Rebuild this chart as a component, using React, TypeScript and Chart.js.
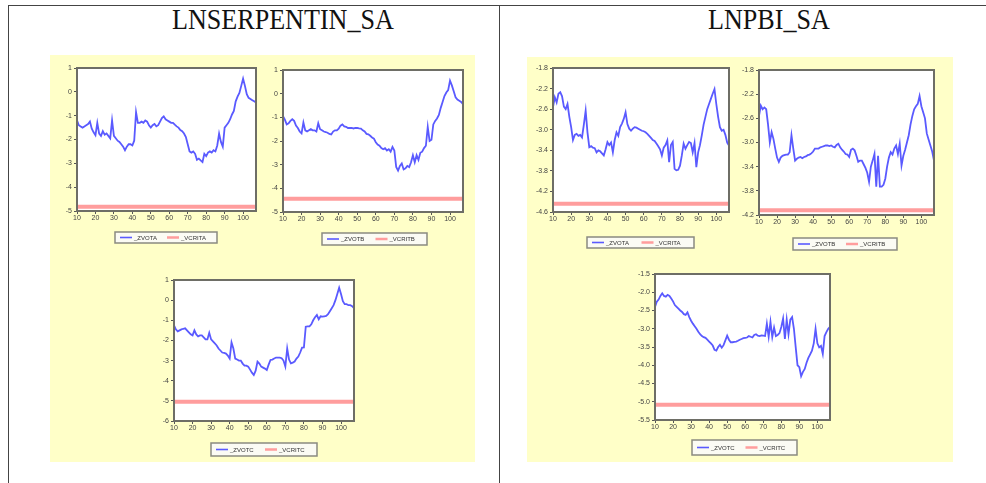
import { useEffect, useRef } from "react";
import { Chart, registerables } from "chart.js";

Chart.register(...registerables);

// Observation index range shared by every small chart
const firstObs = 10;
const lastObs = 107;
const xTicks = [10, 20, 30, 40, 50, 60, 70, 80, 90, 100];

// LNSERPENTIN_SA — test statistics (A, B, C) and their critical values
const serpZvotA = [
  -1.2, -1.4, -1.45, -1.5, -1.45, -1.4, -1.35, -1.25, -1.55, -1.7,
  -1.82, -1.3, -1.75, -1.85, -1.65, -1.8, -1.75, -1.85, -1.95, -1.2,
  -1.85, -1.95, -2.05, -2.1, -2.2, -2.3, -2.45, -2.3, -2.2, -2.2,
  -2.25, -2.05, -0.85, -1.3, -1.3, -1.25, -1.3, -1.2, -1.25, -1.4,
  -1.5, -1.4, -1.35, -1.45, -1.4, -1.25, -1.1, -1.03, -1.15, -1.2,
  -1.25, -1.3, -1.3, -1.38, -1.45, -1.5, -1.6, -1.65, -1.75, -1.9,
  -2.2, -2.5, -2.55, -2.5, -2.6, -2.85, -2.8, -2.88, -2.95, -2.6,
  -2.7, -2.55, -2.5, -2.55, -2.45, -2.5, -2.25, -1.75, -2.1, -2.3,
  -1.5, -1.4, -1.3, -1.15, -0.95, -0.8, -0.4, -0.2, -0.05, 0.25,
  0.55, 0.25, -0.1, -0.25, -0.3, -0.35, -0.4, -0.45,
];
const serpVcritA = -4.82;

const serpZvotB = [
  -0.95, -1.1, -1.3, -1.25, -1.15, -1.08, -1.15, -1.35, -1.45, -1.6,
  -1.68, -1.22, -1.55, -1.6, -1.55, -1.5, -1.55, -1.55, -1.6, -1.25,
  -1.5, -1.55, -1.6, -1.62, -1.65, -1.7, -1.72, -1.6, -1.55, -1.55,
  -1.48, -1.35, -1.3, -1.38, -1.4, -1.45, -1.45, -1.45, -1.47, -1.45,
  -1.45, -1.47, -1.48, -1.55, -1.6, -1.7, -1.72, -1.78, -1.85, -1.9,
  -2.05, -2.15, -2.2, -2.3, -2.35, -2.3, -2.4, -2.35, -2.45, -2.25,
  -2.4, -3.1, -3.25, -3.05, -2.95, -3.2, -3.15, -3.05, -3.1, -2.9,
  -2.6, -2.9, -2.6, -2.8, -2.5, -2.45, -2.3, -2.2, -1.4, -2.0,
  -1.95, -1.3, -1.15, -1.05, -0.9, -0.6, -0.35, -0.1, 0.05, 0.15,
  0.55, 0.35, 0.1, -0.15, -0.25, -0.3, -0.35, -0.45,
];
const serpVcritB = -4.44;

const serpZvotC = [
  -1.25, -1.45, -1.55, -1.5, -1.45, -1.42, -1.4, -1.5, -1.6, -1.7,
  -1.75, -1.5, -1.7, -1.8, -1.75, -1.75, -1.85, -1.95, -1.95, -1.62,
  -1.95, -2.05, -2.15, -2.25, -2.4, -2.5, -2.6, -2.62, -2.65, -2.75,
  -2.9, -2.1, -2.4, -2.9, -2.95, -3.0, -3.0, -3.15, -3.25, -3.25,
  -3.3, -3.45, -3.6, -3.72, -3.5, -3.05, -3.15, -3.3, -3.35, -3.4,
  -3.47, -3.2, -2.97, -2.95, -2.9, -2.85, -2.85, -2.85, -2.88, -3.0,
  -3.3, -2.4, -2.95, -3.14, -3.1, -3.05, -2.9, -2.8, -2.6, -2.36,
  -2.35, -1.32, -1.3, -1.3, -1.2, -1.0, -0.85, -0.74, -0.95, -0.8,
  -0.82, -0.8, -0.78, -0.7, -0.55, -0.4, -0.25, 0.0, 0.3, 0.62,
  0.3, -0.05, -0.2, -0.2, -0.25, -0.25, -0.3, -0.4,
];
const serpVcritC = -5.05;

// LNPBI_SA — test statistics (A, B, C) and their critical values
const pbiZvotA = [
  -2.56, -2.37, -2.47, -2.3, -2.27, -2.35, -2.55, -2.6, -2.5, -2.75,
  -2.95, -3.2, -3.1, -3.08, -3.12, -3.1, -3.15, -2.9, -2.63, -3.05,
  -3.34, -3.32, -3.35, -3.36, -3.44, -3.4, -3.42, -3.46, -3.5, -3.38,
  -3.24, -3.3, -3.25, -3.44, -3.2, -3.05, -3.12, -2.95, -2.88, -2.79,
  -2.66, -2.89, -2.98, -3.02, -2.98, -2.95, -2.96, -2.98, -3.0, -3.02,
  -3.03, -3.05, -3.08, -3.12, -3.16, -3.2, -3.22, -3.27, -3.32, -3.38,
  -3.5, -3.35, -3.3, -3.21, -3.63, -3.3, -3.24, -3.76, -3.79, -3.78,
  -3.7, -3.5, -3.27, -3.37, -3.3, -3.24, -3.26, -3.44, -3.26, -3.73,
  -3.44, -3.3, -3.11, -2.9, -2.75, -2.6, -2.5, -2.4, -2.3, -2.21,
  -2.5, -2.75, -2.95, -3.02, -3.0, -3.1, -3.25, -3.31,
];
const pbiVcritA = -4.44;

const pbiZvotB = [
  -2.56, -2.39, -2.45, -2.42, -2.45, -2.7, -3.0, -2.83, -2.94, -3.1,
  -3.25, -3.32, -3.25, -3.22, -3.21, -3.2, -3.2, -3.16, -2.88, -3.1,
  -3.3, -3.27, -3.25, -3.24, -3.26, -3.24, -3.23, -3.21, -3.2, -3.18,
  -3.15, -3.1, -3.1, -3.1, -3.08, -3.07, -3.06, -3.05, -3.05, -3.06,
  -3.05, -3.07, -3.08, -3.04, -3.02, -3.08, -3.12, -3.15, -3.19, -3.2,
  -3.24, -3.12, -3.1, -3.13, -3.22, -3.32, -3.3, -3.3, -3.36, -3.42,
  -3.5, -3.65, -3.4, -3.3, -3.19, -3.73, -3.22, -3.73, -3.73, -3.7,
  -3.6, -3.4, -3.25, -3.16, -3.2, -3.1, -3.05, -3.19, -3.02, -3.38,
  -3.22, -3.12, -3.0, -2.88, -2.7, -2.56, -2.45, -2.4, -2.36, -2.23,
  -2.4, -2.5, -2.6, -2.85, -2.95, -3.05, -3.15, -3.3,
];
const pbiVcritB = -4.12;

const pbiZvotC = [
  -2.4, -2.26, -2.2, -2.1, -2.03, -2.1, -2.12, -2.07, -2.1, -2.17,
  -2.25, -2.35, -2.4, -2.45, -2.5, -2.54, -2.6, -2.62, -2.55, -2.68,
  -2.78, -2.86, -2.93, -3.0, -3.08, -3.15, -3.2, -3.23, -3.25, -3.3,
  -3.35, -3.4, -3.46, -3.58, -3.6, -3.5, -3.44, -3.52, -3.45, -3.32,
  -3.19, -3.3, -3.37, -3.37, -3.36, -3.35, -3.33, -3.3, -3.28, -3.26,
  -3.25, -3.24, -3.2, -3.22, -3.24, -3.17, -3.15, -3.19, -3.2, -3.18,
  -3.19, -3.2, -2.86, -3.22, -2.81, -3.23, -2.97, -3.2, -3.17, -3.12,
  -2.95, -2.72, -3.28, -2.75, -3.15, -2.75, -2.68, -3.0, -3.51, -4.0,
  -4.05, -4.3, -4.18, -4.1, -3.93, -3.8, -3.7, -3.6, -3.4, -3.0,
  -3.4, -3.51, -3.47, -3.69, -3.2, -3.09, -3.0, -2.95,
];
const pbiVcritC = -5.08;

// Y-axis tick labels
const serpTicksAB = [1, 0, -1, -2, -3, -4, -5];
const serpTicksC = [1, 0, -1, -2, -3, -4, -5, -6];
const pbiTicksA = [-1.8, -2.2, -2.6, -3.0, -3.4, -3.8, -4.2, -4.6];
const pbiTicksB = [-1.8, -2.2, -2.6, -3.0, -3.4, -3.8, -4.2];
const pbiTicksC = [-1.5, -2.0, -2.5, -3.0, -3.5, -4.0, -4.5, -5.0, -5.5];

// Legend labels
const labelsA: [string, string] = ["_ZVOTA", "_VCRITA"];
const labelsB: [string, string] = ["_ZVOTB", "_VCRITB"];
const labelsC: [string, string] = ["_ZVOTC", "_VCRITC"];

const observations = serpZvotA.map((_, i) => firstObs + i);

type Spec = {
  plot: [number, number, number, number]; // left, top, right, bottom
  legend: [number, number, number, number]; // left, top, right, bottom
  zvot: number[];
  vcrit: number;
  yTicks: number[];
  decimals: number;
  labels: [string, string];
};

const specs: Spec[] = [
  { plot: [77, 68, 256, 211], legend: [115, 232, 217, 243], zvot: serpZvotA, vcrit: serpVcritA, yTicks: serpTicksAB, decimals: 0, labels: labelsA },
  { plot: [283, 70, 463, 212], legend: [322, 233, 427, 245], zvot: serpZvotB, vcrit: serpVcritB, yTicks: serpTicksAB, decimals: 0, labels: labelsB },
  { plot: [174, 280, 354, 421], legend: [211, 443, 317, 456], zvot: serpZvotC, vcrit: serpVcritC, yTicks: serpTicksC, decimals: 0, labels: labelsC },
  { plot: [553, 68, 729, 212], legend: [587, 237, 694, 248], zvot: pbiZvotA, vcrit: pbiVcritA, yTicks: pbiTicksA, decimals: 1, labels: labelsA },
  { plot: [759, 70, 934, 215], legend: [793, 238, 897, 250], zvot: pbiZvotB, vcrit: pbiVcritB, yTicks: pbiTicksB, decimals: 1, labels: labelsB },
  { plot: [655, 274, 830, 420], legend: [692, 440, 797, 455], zvot: pbiZvotC, vcrit: pbiVcritC, yTicks: pbiTicksC, decimals: 1, labels: labelsC },
];

const BLUE = "#5a5aff";
const RED = "#ff9d9d";
const FRAME = "#6e6e66";

function SmallChart({ spec }: { spec: Spec }) {
  const ref = useRef<HTMLCanvasElement | null>(null);
  const yAxisW = 26;
  const padTop = 8;
  const padRight = 6;
  const xAxisH = 12;
  const [pl, pt, pr, pb] = spec.plot;
  const [ll, lt, lr, lb] = spec.legend;
  const left = pl - yAxisW;
  const top = pt - padTop;
  const width = pr - left + padRight;
  const height = Math.max(lb, pb + xAxisH) - top + 4;

  useEffect(() => {
    const canvas = ref.current;
    if (!canvas) return;
    const legendBox = { x: ll - left, y: lt - top, w: lr - ll, h: lb - lt };

    const framePlugin = {
      id: "panelFrame",
      beforeDraw(chart: any) {
        const { ctx, chartArea: a } = chart;
        ctx.save();
        ctx.fillStyle = "#ffffff";
        ctx.fillRect(a.left, a.top, a.right - a.left, a.bottom - a.top);
        ctx.restore();
      },
      afterDraw(chart: any) {
        const { ctx, chartArea: a } = chart;
        ctx.save();
        ctx.strokeStyle = FRAME;
        ctx.lineWidth = 2;
        ctx.strokeRect(a.left, a.top, a.right - a.left, a.bottom - a.top);

        // legend box
        const b = legendBox;
        ctx.fillStyle = "#fbfbf4";
        ctx.fillRect(b.x, b.y, b.w, b.h);
        ctx.strokeStyle = "#8a8a80";
        ctx.lineWidth = 1.5;
        ctx.strokeRect(b.x, b.y, b.w, b.h);
        const midY = b.y + b.h / 2;
        const ds = chart.data.datasets;
        ctx.font = "6px 'Liberation Sans', Arial, sans-serif";
        ctx.textBaseline = "middle";
        ctx.fillStyle = "#333";
        const half = b.w / 2;
        ds.forEach((d: any, i: number) => {
          const x0 = b.x + 5 + i * (half - 4);
          ctx.strokeStyle = d.borderColor;
          ctx.lineWidth = i === 0 ? 1.6 : 2.5;
          ctx.beginPath();
          ctx.moveTo(x0, midY);
          ctx.lineTo(x0 + 12, midY);
          ctx.stroke();
          ctx.fillText(d.label, x0 + 14, midY + 0.5);
        });
        ctx.restore();
      },
    };

    const yTicks = spec.yTicks;
    const chart = new Chart(canvas, {
      type: "line",
      data: {
        datasets: [
          {
            label: spec.labels[0],
            data: spec.zvot.map((v, i) => ({ x: observations[i], y: v })),
            borderColor: BLUE,
            borderWidth: 1.8,
            pointRadius: 0,
            tension: 0,
          },
          {
            label: spec.labels[1],
            data: [
              { x: firstObs, y: spec.vcrit },
              { x: lastObs, y: spec.vcrit },
            ],
            borderColor: RED,
            borderWidth: 4,
            pointRadius: 0,
          },
        ],
      },
      options: {
        responsive: false,
        animation: false,
        devicePixelRatio: 1,
        layout: {
          padding: { left: 0, top: padTop, right: padRight, bottom: height - (pb - top) - xAxisH },
        },
        plugins: { legend: { display: false }, tooltip: { enabled: false } },
        scales: {
          x: {
            type: "linear",
            min: firstObs,
            max: lastObs,
            afterBuildTicks: (s: any) => {
              s.ticks = xTicks.map((v) => ({ value: v }));
            },
            afterFit: (s: any) => {
              s.height = xAxisH;
            },
            grid: { drawOnChartArea: false, tickLength: 3, color: "#555", lineWidth: 1 },
            border: { display: false },
            ticks: {
              font: { size: 7, family: "'Liberation Sans', Arial, sans-serif" },
              color: "#444",
              padding: 0,
              maxRotation: 0,
              autoSkip: false,
              callback: (v: any) => String(v),
            },
          },
          y: {
            type: "linear",
            min: yTicks[yTicks.length - 1],
            max: yTicks[0],
            afterBuildTicks: (s: any) => {
              s.ticks = yTicks.map((v) => ({ value: v }));
            },
            afterFit: (s: any) => {
              s.width = yAxisW;
            },
            grid: { drawOnChartArea: false, tickLength: 3, color: "#555", lineWidth: 1 },
            border: { display: false },
            ticks: {
              font: { size: 7, family: "'Liberation Sans', Arial, sans-serif" },
              color: "#444",
              padding: 2,
              autoSkip: false,
              callback: (v: any) => Number(v).toFixed(spec.decimals),
            },
          },
        },
      },
      plugins: [framePlugin],
    });
    return () => chart.destroy();
  }, []);

  return (
    <canvas
      ref={ref}
      width={width}
      height={height}
      style={{ position: "absolute", left, top, width, height, filter: "blur(0.5px)" }}
    />
  );
}

export default function App() {
  const line = "#444";
  const headerStyle = {
    position: "absolute" as const,
    top: 2,
    fontFamily: "'Liberation Serif', 'DejaVu Serif', serif",
    fontSize: 30,
    lineHeight: "34px",
    color: "#111",
    whiteSpace: "nowrap" as const,
    transform: "scaleX(0.87)",
    transformOrigin: "left top",
  };
  return (
    <div style={{ position: "fixed", left: 0, top: 0, width: 986, height: 483, background: "#fff", overflow: "hidden" }}>
      {/* table rules */}
      <div style={{ position: "absolute", left: 8, top: 5, width: 978, height: 1, background: line }} />
      <div style={{ position: "absolute", left: 8, top: 5, width: 1, height: 478, background: line }} />
      <div style={{ position: "absolute", left: 499, top: 5, width: 1, height: 478, background: line }} />

      {/* cell headers */}
      <div style={{ ...headerStyle, left: 172 }}>LNSERPENTIN_SA</div>
      <div style={{ ...headerStyle, left: 708 }}>LNPBI_SA</div>

      {/* yellow panels */}
      <div style={{ position: "absolute", left: 50, top: 55, width: 425, height: 407, background: "#ffffc8" }} />
      <div style={{ position: "absolute", left: 527, top: 57, width: 426, height: 405, background: "#ffffc8" }} />

      {specs.map((s, i) => (
        <SmallChart key={i} spec={s} />
      ))}
    </div>
  );
}
